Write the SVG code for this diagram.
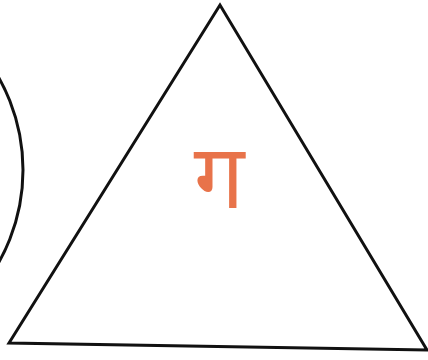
<svg xmlns="http://www.w3.org/2000/svg" width="428" height="360" viewBox="0 0 428 360">
<style>
.shape{fill:none;stroke:#111;stroke-width:3;stroke-linejoin:miter}
.lbl{font-family:"Noto Sans","DejaVu Sans",sans-serif;font-size:90px;fill:#e8734a;text-anchor:middle}
</style>
<rect width="428" height="360" fill="#fff"/>
<g id="circle">
<circle class="shape" cx="-165" cy="170" r="188"/>
</g>
<g id="triangle">
<polygon class="shape" points="220,5 9,343 427,350"/>
<text class="lbl" x="219" y="208">ग</text>
</g>
<g id="connectors"></g>
</svg>
